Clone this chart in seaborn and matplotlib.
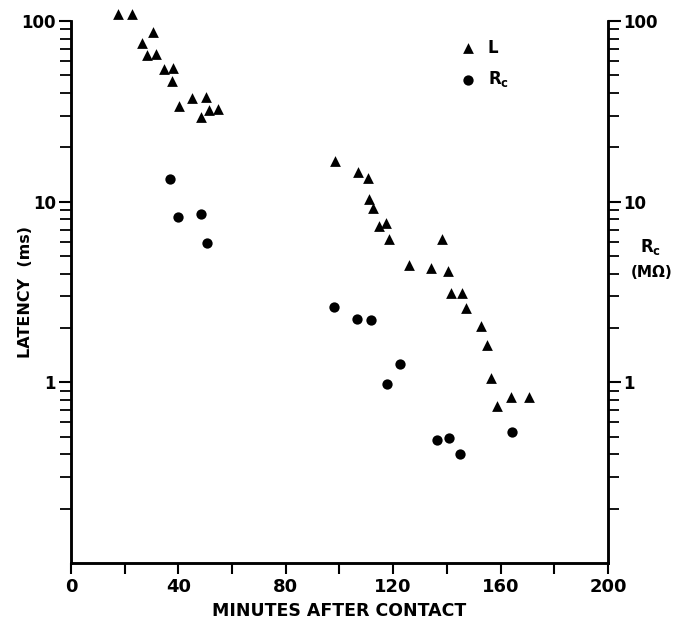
import numpy as np
import pandas as pd
import matplotlib
matplotlib.use("Agg")
import matplotlib.pyplot as plt
import matplotlib.ticker as mticker
import seaborn as sns

# 数据
l_min = [17.6, 22.6, 26.4, 28.2, 30.7, 31.5, 34.6, 37.5, 38.1, 40.2, 45.0, 48.3, 50.2, 51.4, 54.7,
         98.2, 107.0, 110.6, 111.0, 112.4, 114.7, 117.3, 118.5, 126.0, 134.0, 138.2, 140.5, 141.5,
         145.7, 147.2, 152.7, 154.8, 156.3, 158.7, 164.0, 170.5]
l_ms = [109, 109, 75.8, 64.9, 86.5, 65.6, 54.2, 46.8, 54.9, 33.9, 37.3, 29.5, 38.1, 32.1, 32.7,
        16.8, 14.6, 13.6, 10.3, 9.2, 7.3, 7.6, 6.2, 4.47, 4.28, 6.2, 4.13, 3.13,
        3.11, 2.59, 2.04, 1.60, 1.06, 0.74, 0.83, 0.83]

rc_min = [37.0, 40.0, 48.3, 50.8, 97.8, 106.6, 111.8, 117.8, 122.6, 136.3, 140.8, 144.8, 164.1]
rc_mohm = [13.4, 8.2, 8.6, 5.9, 2.62, 2.23, 2.21, 0.98, 1.27, 0.48, 0.49, 0.40, 0.53]

x_ticks = [0, 20, 40, 60, 80, 100, 120, 140, 160, 180, 200]
x_labels = ['0', '', '40', '', '80', '', '120', '', '160', '', '200']
y_major = [1, 10, 100]
y_labels = ['1', '10', '100']

df_l = pd.DataFrame({'minutes': l_min, 'value': l_ms})
df_rc = pd.DataFrame({'minutes': rc_min, 'value': rc_mohm})

sns.set_style("ticks")
plt.rcParams['font.family'] = ['DejaVu Sans']
plt.rcParams['font.weight'] = 'bold'
plt.rcParams['mathtext.fontset'] = 'dejavusans'
for k in ['text.color', 'axes.labelcolor', 'xtick.color', 'ytick.color']:
    plt.rcParams[k] = 'black'

fig = plt.figure(figsize=(6.84, 6.19), dpi=100)
ax = fig.add_axes([0.1038, 0.0905, 0.785, 0.8755])

sns.scatterplot(data=df_l, x='minutes', y='value', marker='^', s=60, color='black',
                edgecolor='black', linewidth=0, clip_on=False, label='L', ax=ax)
sns.scatterplot(data=df_rc, x='minutes', y='value', marker='o', s=55, color='black',
                edgecolor='black', linewidth=0, clip_on=False, label=r'$\mathbf{R_c}$', ax=ax)

ax.set_yscale('log')
ax.set_xlim(0, 200)
ax.set_ylim(0.1, 100)

minor = [v * d for d in [0.1, 1, 10] for v in range(2, 10)]


def style_y(a):
    a.yaxis.set_major_locator(mticker.FixedLocator(y_major))
    a.yaxis.set_major_formatter(mticker.FixedFormatter(y_labels))
    a.yaxis.set_minor_locator(mticker.FixedLocator(minor))
    a.yaxis.set_minor_formatter(mticker.NullFormatter())
    a.tick_params(axis='y', which='major', direction='out', length=9, width=1.5,
                  labelsize=12, pad=2)
    a.tick_params(axis='y', which='minor', direction='out', length=8, width=1.3)


style_y(ax)
ax.set_xticks(x_ticks)
ax.set_xticklabels(x_labels)
ax.tick_params(axis='x', direction='out', length=8, width=1.5, labelsize=13, pad=3)

ax2 = ax.twinx()
ax2.set_yscale('log')
ax2.set_ylim(0.1, 100)
style_y(ax2)

for a in [ax, ax2]:
    a.spines['top'].set_visible(False)
    for s in ['left', 'right', 'bottom']:
        a.spines[s].set_linewidth(1.8)
        a.spines[s].set_color('black')

ax.set_xlabel('MINUTES AFTER CONTACT', fontsize=12.5, fontweight='bold')
ax.xaxis.set_label_coords(0.5, -0.072)
ax.set_ylabel('LATENCY  (ms)', fontsize=11.5, fontweight='bold')
ax.yaxis.set_label_coords(-0.07, 0.5)
ax2.set_ylabel('')
fig.text(0.951, 0.601, r'$\mathbf{R_c}$', fontsize=12, ha='center', va='center')
fig.text(0.953, 0.559, '(MΩ)', fontsize=11, fontweight='bold', ha='center', va='center')

ax.legend(loc='upper left', bbox_to_anchor=(0.695, 0.98), frameon=False, fontsize=12,
          handletextpad=0.2, labelspacing=0.75, borderaxespad=0)

fig.savefig('out.png', dpi=100)
